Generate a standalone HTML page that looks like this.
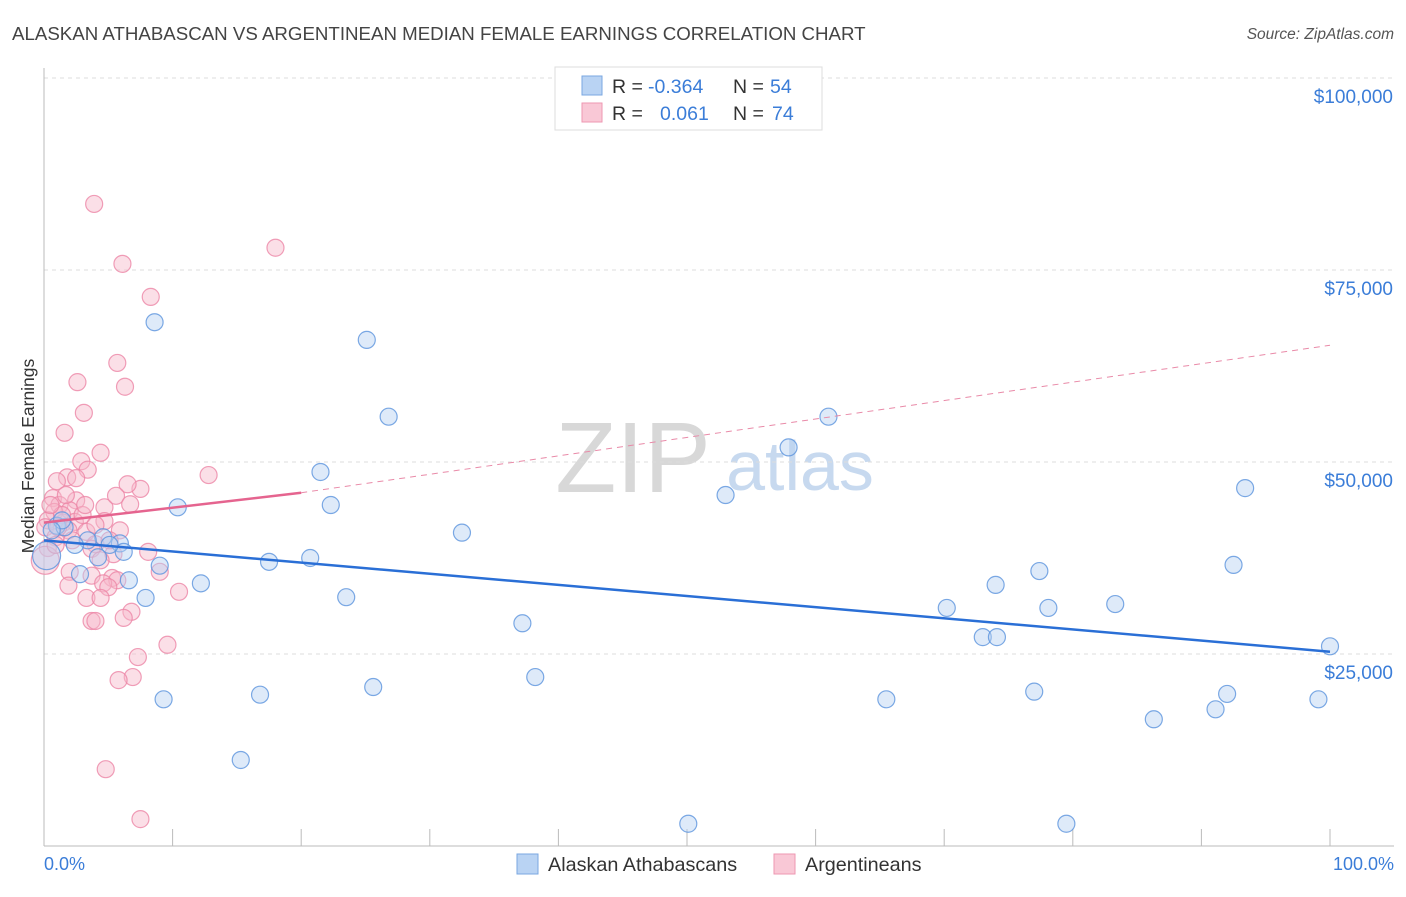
<!DOCTYPE html>
<html><head><meta charset="utf-8"><style>
body{margin:0;background:#fff;font-family:"Liberation Sans",sans-serif;}
svg text{font-family:"Liberation Sans",sans-serif;}
</style></head><body>
<svg id="chart" width="1406" height="892" xmlns="http://www.w3.org/2000/svg">
<text x="12" y="40" font-size="18.7" fill="#444">ALASKAN ATHABASCAN VS ARGENTINEAN MEDIAN FEMALE EARNINGS CORRELATION CHART</text>
<text x="1394" y="39" font-size="15.5" fill="#555" text-anchor="end" font-style="italic">Source: ZipAtlas.com</text>
<text transform="translate(34,456) rotate(-90)" font-size="17.5" fill="#333" text-anchor="middle">Median Female Earnings</text>
<g>
<text x="633" y="492" font-size="100" fill="#d8d8d8" font-family="Liberation Serif,serif" text-anchor="middle">ZIP</text>
<text x="800" y="490" font-size="70" fill="#c7d9ef" text-anchor="middle">atlas</text>
</g>
<g id="grid"></g><g id="axes"></g><g id="marks"></g>
<g>
<rect x="555" y="67" width="267" height="63" fill="#fff" stroke="#ddd"/>
<rect x="582" y="76" width="20" height="19" fill="#b9d3f3" stroke="#7aa7e0"/>
<rect x="582" y="103" width="20" height="19" fill="#f9c8d6" stroke="#ee97b2"/>
<text x="612" y="93" font-size="19.5" fill="#333">R =</text>
<text x="648" y="93" font-size="19.5" fill="#3b7dd8">-0.364</text>
<text x="733" y="93" font-size="19.5" fill="#333">N =</text>
<text x="770" y="93" font-size="19.5" fill="#3b7dd8">54</text>
<text x="612" y="120" font-size="19.5" fill="#333">R =</text>
<text x="660" y="120" font-size="19.5" fill="#3b7dd8">0.061</text>
<text x="733" y="120" font-size="19.5" fill="#333">N =</text>
<text x="772" y="120" font-size="19.5" fill="#3b7dd8">74</text>
</g>
<g>
<rect x="517" y="854" width="21" height="20" fill="#b9d3f3" stroke="#7aa7e0"/>
<text x="548" y="871" font-size="19.8" fill="#333">Alaskan Athabascans</text>
<rect x="774" y="854" width="21" height="20" fill="#f9c8d6" stroke="#ee97b2"/>
<text x="805" y="871" font-size="19.8" fill="#333">Argentineans</text>
</g>
<text x="44" y="870" font-size="18" fill="#3b7dd8">0.0%</text>
<text x="1394" y="870" font-size="18" fill="#3b7dd8" text-anchor="end">100.0%</text>
</svg>
<script>
const yTicks=[25000,50000,75000,100000];
const yTickLabels=["$25,000","$50,000","$75,000","$100,000"];
const blueX=[8.6,25.1,26.8,61.0,57.9,21.5,53.0,93.4,10.4,22.3,32.5,1.0,1.6,4.6,5.9,4.2,6.2,6.6,2.8,7.9,12.2,9.0,17.5,20.7,23.5,92.5,77.4,74.0,70.2,78.1,83.3,37.2,73.0,74.1,100.0,38.2,25.6,16.8,9.3,65.5,77.0,92.0,99.1,86.3,91.1,15.3,50.1,79.5,0.2,1.4,3.4,5.1,2.4,0.6];
const blueY=[68200,65900,55900,55900,51900,48700,45700,46600,44100,44400,40800,41700,41500,40200,39400,37600,38300,34600,35400,32300,34200,36500,37000,37500,32400,36600,35800,34000,31000,31000,31500,29000,27200,27200,26000,22000,20700,19700,19100,19100,20100,19800,19100,16500,17800,11200,2900,2900,37800,42400,39800,39200,39200,41100];
const pinkX=[3.9,18.0,6.1,8.3,5.7,2.6,6.3,3.1,1.6,4.4,2.9,3.4,1.8,2.5,1.0,7.5,12.8,6.5,2.5,0.7,1.2,2.0,4.7,5.6,0.8,0.3,1.5,2.4,6.7,4.7,0.1,1.9,3.3,4.0,0.9,0.3,8.1,3.7,5.4,9.0,2.0,3.7,1.9,5.3,5.7,4.6,5.0,10.5,3.3,4.4,6.8,3.7,6.2,4.0,9.6,7.3,6.9,5.8,4.8,7.5,0.1,0.9,1.4,3.0,4.0,2.2,1.1,0.5,1.7,4.4,5.9,3.2,5.1];
const pinkY=[83600,77900,75800,71500,62900,60400,59800,56400,53800,51200,50100,49000,48000,47900,47500,46500,48300,47100,45000,45300,44400,43700,44100,45600,43500,42400,42100,42200,44500,42300,41500,41100,40900,39300,40200,38800,38300,38700,38000,35700,35700,35200,33900,34900,34600,34200,33700,33100,32300,32300,30500,29300,29700,29300,26200,24600,22000,21600,10000,3500,37200,39200,43100,43100,41800,39800,41500,44400,45700,37200,41100,44400,39800];
const blueTrend=[[0,39800],[100,25300]];
const pinkTrendSolid=[[0,42100],[20,46000]];
const pinkTrendDash=[[20,46000],[100,65200]];
const NS="http://www.w3.org/2000/svg";
const X=v=>44+v*12.86, Y=v=>846-v*0.00768;
function mk(t,a,p){const e=document.createElementNS(NS,t);for(const k in a)e.setAttribute(k,a[k]);p.appendChild(e);return e;}
const grid=document.getElementById('grid'),axes=document.getElementById('axes'),marks=document.getElementById('marks');
yTicks.forEach((t,i)=>{
 const l=mk('line',{x1:44,x2:1394,y1:Y(t),y2:Y(t),stroke:'#ddd','stroke-dasharray':'4,4'},grid);
 
 
 const tx=mk('text',{x:1393,y:Y(t)+25,'font-size':19,fill:'#3b7dd8','text-anchor':'end'},axes);
 tx.textContent=yTickLabels[i];
 
 
});
const ax=mk('line',{x1:44,x2:1394,y1:846,y2:846,stroke:'#bbb'},axes);


const ay=mk('line',{x1:44,x2:44,y1:68,y2:846,stroke:'#bbb'},axes);


for(let i=0;i<=10;i++){const t=mk('line',{x1:X(i*10),x2:X(i*10),y1:829,y2:846,stroke:'#bbb'},axes);
 
 }
function pts(xs,ys,fill,stroke,name){xs.forEach((x,i)=>{const r=(x<0.3&&(ys[i]===37800||ys[i]===37200))?14:8.5;
 const c=mk('circle',{cx:X(x),cy:Y(ys[i]),r:r,fill:fill,'fill-opacity':0.45,stroke:stroke,'stroke-width':1.2,'stroke-opacity':0.8},marks);
 
 });}
pts(pinkX,pinkY,'#f6b7c9','#ec86a6','argentinean-point');
pts(blueX,blueY,'#b6d0f2','#5b93dd','athabascan-point');
function ln(a,col,w,dash,name){const l=mk('line',{x1:X(a[0][0]),y1:Y(a[0][1]),x2:X(a[1][0]),y2:Y(a[1][1]),stroke:col,'stroke-width':w},marks);
 if(dash)l.setAttribute('stroke-dasharray',dash);
 
 }
ln(pinkTrendDash,'#e98aa8',1,'6,5','argentinean-trend-extension');
ln(blueTrend,'#2a6fd6',2.5,null,'athabascan-trend-line');
ln(pinkTrendSolid,'#e5648f',2.5,null,'argentinean-trend-line');
</script>
</body></html>
